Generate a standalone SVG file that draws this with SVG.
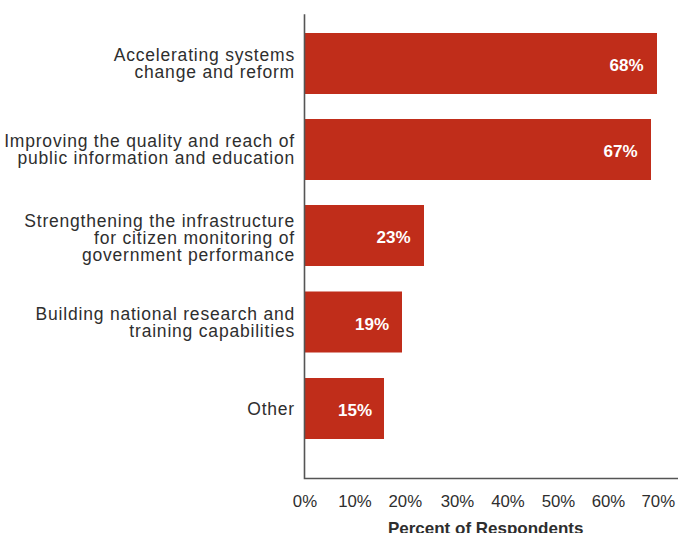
<svg xmlns="http://www.w3.org/2000/svg" width="678" height="533" viewBox="0 0 678 533">
<style>
.lbl{font-family:"Liberation Sans",Arial,sans-serif;font-size:17.5px;fill:#2e2e2e;text-anchor:end;letter-spacing:0.8px}
.val{font-family:"Liberation Sans",Arial,sans-serif;font-size:17px;font-weight:bold;fill:#ffffff;text-anchor:end}
.tick{font-family:"Liberation Sans",Arial,sans-serif;font-size:16.8px;fill:#2e2e2e;text-anchor:middle}
.ttl{font-family:"Liberation Sans",Arial,sans-serif;font-size:17px;font-weight:bold;fill:#2e2e2e;text-anchor:middle}
.bar{fill:#c02d1a}
.axis{stroke:#555555;stroke-width:1.6;fill:none}
</style>
<rect width="678" height="533" fill="#ffffff"/>
<g id="bar-accelerating">
<rect class="bar" x="305" y="33" width="352" height="61"/>
<text class="lbl"><tspan x="295" y="61">Accelerating systems</tspan><tspan x="295" y="77.7">change and reform</tspan></text>
<text class="val" x="643.5" y="71">68%</text>
</g>
<g id="bar-improving">
<rect class="bar" x="305" y="119" width="346" height="61"/>
<text class="lbl"><tspan x="295" y="147">Improving the quality and reach of</tspan><tspan x="295" y="163.7">public information and education</tspan></text>
<text class="val" x="637.5" y="157">67%</text>
</g>
<g id="bar-strengthening">
<rect class="bar" x="305" y="205" width="119" height="61"/>
<text class="lbl"><tspan x="295" y="226.5">Strengthening the infrastructure</tspan><tspan x="295" y="243.5">for citizen monitoring of</tspan><tspan x="295" y="261">government performance</tspan></text>
<text class="val" x="410.5" y="243">23%</text>
</g>
<g id="bar-building">
<rect class="bar" x="305" y="291.5" width="97" height="61"/>
<text class="lbl"><tspan x="295" y="319.5">Building national research and</tspan><tspan x="295" y="336.5">training capabilities</tspan></text>
<text class="val" x="389" y="329.5">19%</text>
</g>
<g id="bar-other">
<rect class="bar" x="305" y="378" width="79" height="61"/>
<text class="lbl" x="295" y="414.5">Other</text>
<text class="val" x="372" y="416">15%</text>
</g>
<g id="connectors">
<path class="axis" d="M304.5 14.3 V478.5 H678"/>
</g>
<g id="x-axis-labels">
<text class="tick" x="305" y="506.5">0%</text>
<text class="tick" x="355" y="506.5">10%</text>
<text class="tick" x="405.3" y="506.5">20%</text>
<text class="tick" x="457.5" y="506.5">30%</text>
<text class="tick" x="508" y="506.5">40%</text>
<text class="tick" x="558.5" y="506.5">50%</text>
<text class="tick" x="608.5" y="506.5">60%</text>
<text class="tick" x="658.3" y="506.5">70%</text>
<text class="ttl" x="485.7" y="534">Percent of Respondents</text>
</g>
</svg>
